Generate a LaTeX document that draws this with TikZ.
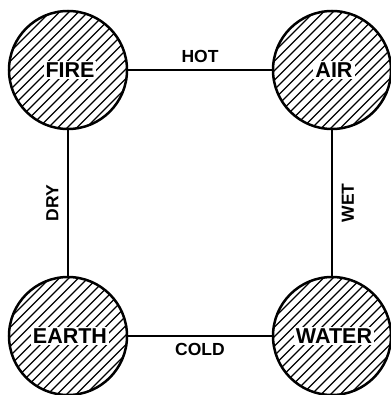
\documentclass[tikz,border=0pt]{standalone}
\usepackage{fontspec}
\setmainfont{Liberation Sans}
\begin{document}
\begin{tikzpicture}[x=1pt,y=-1pt,
  element/.style={circle,minimum size=118pt,inner sep=0pt},
  rim/.style={line width=2.5pt},
  hatch/.style={line width=1.2pt},
  elname/.style={fill=white,inner sep=2pt,font=\fontsize{21.5}{21.5}\selectfont\bfseries},
  link/.style={line width=2.8pt},
  quality/.style={font=\fontsize{17.5}{17.5}\selectfont\bfseries}]
\useasboundingbox (0,0) rectangle (390,395);
% the four elements
\node[element] (fire)  at (68,70)   {};
\node[element] (air)   at (332,70)  {};
\node[element] (earth) at (68,336)  {};
\node[element] (water) at (332,336) {};
% connectors between the elements
\draw[link] (fire.east)  -- node[quality,above=3pt] (hot) {HOT}  (air.west);
\draw[link] (earth.east) -- node[quality,below=3pt] (cold) {COLD} (water.west);
\draw[link] (fire.south) -- node[quality,rotate=90,above=5pt] (dry) {DRY} (earth.north);
\draw[link] (air.south)  -- node[quality,rotate=90,below=5pt] (wet) {WET} (water.north);
% diagonal hatching inside each circle, then the rim and the name
\foreach \el/\txt in {fire/FIRE,air/AIR,earth/EARTH,water/WATER}{
  \begin{scope}
    \clip (\el.center) circle (59pt);
    \foreach \k in {-14,...,14}
      \draw[hatch] ([xshift=\k*9.5pt-80pt,yshift=-80pt]\el.center) -- ++(160pt,160pt);
  \end{scope}
  \draw[rim] (\el.center) circle (59pt);
  \node[elname] (\el-label) at ([xshift=2pt]\el.center) {\txt};
}
\end{tikzpicture}
\end{document}
